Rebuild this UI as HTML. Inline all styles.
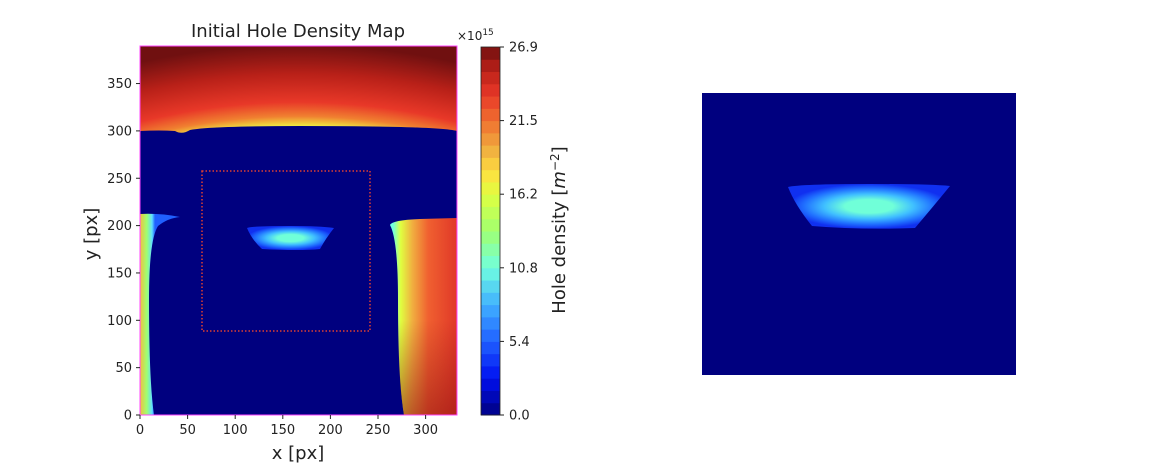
<!DOCTYPE html>
<html><head><meta charset="utf-8"><style>
html,body{margin:0;padding:0;background:#fff;width:1149px;height:468px;overflow:hidden}
text{font-family:"DejaVu Sans","Liberation Sans",sans-serif;fill:#222}
</style></head><body>
<svg id="s" width="1149" height="468" viewBox="0 0 1149 468" xmlns="http://www.w3.org/2000/svg">
<defs>
<clipPath id="pc"><rect x="140" y="46" width="317" height="369"/></clipPath>
<radialGradient id="topg" gradientUnits="userSpaceOnUse" cx="298" cy="520" r="475" gradientTransform="translate(298 520) scale(1.25 1) translate(-298 -520)">
<stop offset="0.82" stop-color="#a0ff70"/><stop offset="0.83" stop-color="#f0e840"/><stop offset="0.85" stop-color="#f08030"/><stop offset="0.88" stop-color="#e83828"/><stop offset="0.94" stop-color="#b82018"/><stop offset="1" stop-color="#701010"/>
</radialGradient>
<linearGradient id="rightg" gradientUnits="userSpaceOnUse" x1="393" y1="0" x2="457" y2="0">
<stop offset="0" stop-color="#70ffe0"/><stop offset="0.12" stop-color="#e0ff40"/><stop offset="0.3" stop-color="#f0b040"/><stop offset="0.55" stop-color="#f06030"/><stop offset="1" stop-color="#e03828"/>
</linearGradient>
<linearGradient id="rightb" gradientUnits="userSpaceOnUse" x1="0" y1="320" x2="0" y2="415">
<stop offset="0" stop-color="#901010" stop-opacity="0"/><stop offset="1" stop-color="#901010" stop-opacity="0.55"/>
</linearGradient>
<linearGradient id="leftg" gradientUnits="userSpaceOnUse" x1="140" y1="0" x2="155" y2="0">
<stop offset="0" stop-color="#f0c040"/><stop offset="0.45" stop-color="#a0ff70"/><stop offset="0.8" stop-color="#60e0ff"/><stop offset="1" stop-color="#2060ff"/>
</linearGradient>
<radialGradient id="blobg" cx="0.5" cy="0.5" r="0.5">
<stop offset="0.3" stop-color="#70ffd8"/><stop offset="0.55" stop-color="#40c0ff"/><stop offset="0.8" stop-color="#2070ff"/><stop offset="1" stop-color="#1030f0"/>
</radialGradient>
</defs>
<text x="298" y="37" text-anchor="middle" font-size="18">Initial Hole Density Map</text>
<g clip-path="url(#pc)">
<rect x="140" y="46" width="317" height="369" fill="#00007f"/>
<path d="M140,46 H457 V131 Q440,126 300,126 Q210,126 190,130 Q182,135 175,131 Q160,130 140,131 Z" fill="url(#topg)"/>
<path d="M457,415 H404 Q398,380 398,300 Q398,240 390,225 Q392,220 420,219 L457,218 Z" fill="url(#rightg)"/>
<path d="M457,415 H404 Q398,380 398,320 L457,320 Z" fill="url(#rightb)"/>
<path d="M140,415 H154 Q149,380 149,300 Q149,240 158,226 Q168,218 180,217 Q160,213 140,214 Z" fill="url(#leftg)"/>
<path d="M247,228 Q252,226 290,226 Q320,226 334,228 Q326,238 320,249 Q300,251 262,249 Q252,240 247,228 Z" fill="url(#blobg)"/>
</g>
<rect x="140" y="46" width="317" height="369" fill="none" stroke="#ff44ff" stroke-width="1"/>
<rect x="202" y="171" width="168" height="160" fill="none" stroke="#e04030" stroke-width="1.5" stroke-dasharray="1.5,2"/>
<g id="xax"></g>
<g id="yax"></g>
<text x="298" y="459" text-anchor="middle" font-size="18">x [px]</text>
<text transform="translate(97 234) rotate(-90)" text-anchor="middle" font-size="18">y [px]</text>
<g id="cbar"></g>
<text x="457" y="40" font-size="12">×10<tspan dy="-5" font-size="9">15</tspan></text>
<text transform="translate(565 230) rotate(-90)" text-anchor="middle" font-size="18">Hole density [<tspan font-style="italic">m</tspan><tspan dy="-6" font-size="12">−2</tspan><tspan dy="6">]</tspan></text>
<g>
<rect x="702" y="93" width="314" height="282" fill="#00007f"/>
<path d="M788,187 Q800,184 870,184 Q930,184 950,186 Q932,208 915,228 Q860,230 812,226 Q795,205 788,187 Z" fill="url(#blobg)"/>
</g>
</svg>
<script>
const xTicks=[0,50,100,150,200,250,300];
const yTicks=[0,50,100,150,200,250,300,350];
const cbarTicks=["0.0","5.4","10.8","16.2","21.5","26.9"];
const cbarTickValues=[0,5.38,10.76,16.14,21.52,26.9];
const cbarMax=26.9;
const cbarLevels=30;
const NS="http://www.w3.org/2000/svg";
const cmapStops=[[0,[0,0,128]],[0.1,[0,16,240]],[0.2,[32,96,255]],[0.3,[64,176,255]],[0.4,[112,255,224]],[0.5,[160,255,112]],[0.6,[224,255,64]],[0.66,[255,224,64]],[0.72,[240,176,64]],[0.8,[240,112,48]],[0.87,[232,56,40]],[0.94,[184,32,24]],[1,[112,16,16]]];
function X(v){return 140+v*0.952;}
function Y(v){return 415-v*0.947;}
function CB(v){return 415-v/cbarMax*368;}
function cmap(t){
  for(let i=1;i<cmapStops.length;i++){
    if(t<=cmapStops[i][0]){const a=cmapStops[i-1],b=cmapStops[i];const f=(t-a[0])/(b[0]-a[0]);
      const c=a[1].map((v,k)=>Math.round(v+(b[1][k]-v)*f));return `rgb(${c[0]},${c[1]},${c[2]})`;}
  }
  return 'rgb(112,16,16)';
}
function mk(tag,attrs,parent){const e=document.createElementNS(NS,tag);for(const k in attrs)e.setAttribute(k,attrs[k]);parent.appendChild(e);return e;}
const xa=document.getElementById('xax'),ya=document.getElementById('yax'),cb=document.getElementById('cbar');
xTicks.forEach(v=>{
  const l=mk('line',{x1:X(v),x2:X(v),y1:415,y2:419,stroke:'#222'},xa);
  
  
  const t=mk('text',{x:X(v),y:434,'text-anchor':'middle','font-size':'13'},xa);t.textContent=v;
  
  
});
yTicks.forEach(v=>{
  const l=mk('line',{x1:136,x2:140,y1:Y(v),y2:Y(v),stroke:'#222'},ya);
  
  
  const t=mk('text',{x:132,y:Y(v)+4.5,'text-anchor':'end','font-size':'13'},ya);t.textContent=v;
  
  
});
for(let i=0;i<cbarLevels;i++){
  const v0=i*cbarMax/cbarLevels,v1=(i+1)*cbarMax/cbarLevels;
  const r=mk('rect',{x:481,y:CB(v1),width:19,height:CB(v0)-CB(v1)+0.5,fill:cmap((i+0.5)/cbarLevels)},cb);
  
  
}
mk('rect',{x:481,y:47,width:19,height:368,fill:'none',stroke:'#222','stroke-width':0.8},cb);
cbarTicks.forEach((s,i)=>{
  const y=CB(cbarTickValues[i]);
  mk('line',{x1:500,x2:504,y1:y,y2:y,stroke:'#222'},cb);
  const t=mk('text',{x:509,y:y+4.5,'font-size':'13'},cb);t.textContent=s;
  
  
});
</script>
</body></html>
